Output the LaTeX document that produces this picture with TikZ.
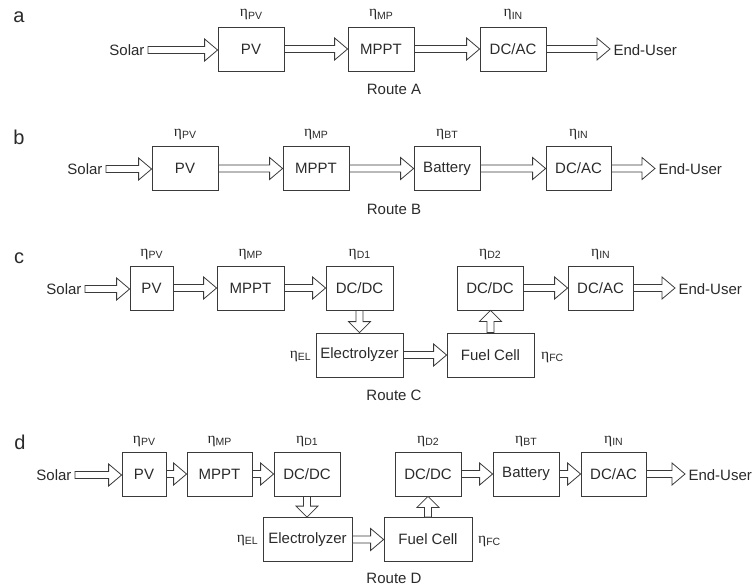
\documentclass[tikz,border=0pt]{standalone}
\usepackage{fontspec}
\setmainfont{Liberation Sans}
\newfontfamily\etafont{Liberation Serif}
\usetikzlibrary{calc}
\definecolor{lc}{HTML}{3A3A3A}
\definecolor{tc}{HTML}{2A2A2A}
\newcommand\eff[1]{{\etafont\fontsize{15.5}{15.5}\selectfont η}\raisebox{-2.5pt}{\fontsize{10.5}{10.5}\selectfont #1}}
\newcommand\fatR[2]{\draw[farrow] let \p1=(#1), \p2=(#2) in (\x1,\y1+3.5pt) -- (\x2-13pt,\y1+3.5pt) -- (\x2-13pt,\y1+11pt) -- (\x2,\y1) -- (\x2-13pt,\y1-11pt) -- (\x2-13pt,\y1-3.5pt) -- (\x1,\y1-3.5pt) -- cycle;}
\newcommand\fatD[2]{\draw[farrow] let \p1=(#1), \p2=(#2) in (\x1-3.5pt,\y1) -- (\x1-3.5pt,\y2+11pt) -- (\x1-11pt,\y2+11pt) -- (\x1,\y2) -- (\x1+11pt,\y2+11pt) -- (\x1+3.5pt,\y2+11pt) -- (\x1+3.5pt,\y1) -- cycle;}
\newcommand\fatU[2]{\draw[farrow] let \p1=(#1), \p2=(#2) in (\x1-3.5pt,\y1) -- (\x1-3.5pt,\y2-11pt) -- (\x1-11pt,\y2-11pt) -- (\x1,\y2) -- (\x1+11pt,\y2-11pt) -- (\x1+3.5pt,\y2-11pt) -- (\x1+3.5pt,\y1) -- cycle;}
\tikzset{
  box/.style={draw=lc, line width=0.8pt, minimum height=44pt, inner sep=0pt, text=tc, font=\fontsize{15}{18}\selectfont},
  farrow/.style={draw=lc, line width=0.8pt, fill=white, line join=miter},
  txt/.style={inner sep=0pt, outer sep=3.5pt, text=tc, font=\fontsize{15}{18}\selectfont},
  eta/.style={inner sep=0pt, text=tc},
  panel/.style={inner sep=0pt, text=tc, font=\fontsize{20}{20}\selectfont},
}
\begin{document}
\begin{tikzpicture}[x=1pt,y=-1pt]
\useasboundingbox (0,0) rectangle (754,588);
% ---------- Row a ----------
\node[panel] (pa) at (19,17) {a};
\node[box, minimum width=66pt] (a1) at (251,49) {PV};
\node[box, minimum width=66pt] (a2) at (381,49) {MPPT};
\node[box, minimum width=66pt] (a3) at (513,49) {DC/AC};
\node[txt, anchor=east] (as) at (148,50) {Solar};
\node[txt, anchor=west] (ae) at (610,50) {End-User};
\node[eta] (ae1) at (251,15) {\eff{PV}};
\node[eta] (ae2) at (381,15) {\eff{MP}};
\node[eta] (ae3) at (513,15) {\eff{IN}};
\node[txt] (ar) at (394,89) {Route A};
\fatR{as.east}{a1.west}
\fatR{a1.east}{a2.west}
\fatR{a2.east}{a3.west}
\fatR{a3.east}{ae.west}
% ---------- Row b ----------
\node[panel] (pb) at (19,137) {b};
\node[box, minimum width=66pt] (b1) at (185,168.5) {PV};
\node[box, minimum width=66pt] (b2) at (316,168.5) {MPPT};
\node[box, minimum width=66pt] (b3) at (447,168.5) {Battery};
\node[box, minimum width=65pt] (b4) at (578.5,168.5) {DC/AC};
\node[txt, anchor=east] (bs) at (106,169) {Solar};
\node[txt, anchor=west] (be) at (655,169) {End-User};
\node[eta] (be1) at (185,134) {\eff{PV}};
\node[eta] (be2) at (316,134) {\eff{MP}};
\node[eta] (be3) at (447,134) {\eff{BT}};
\node[eta] (be4) at (578.5,134) {\eff{IN}};
\node[txt] (br) at (394,209) {Route B};
\fatR{bs.east}{b1.west}
\fatR{b1.east}{b2.west}
\fatR{b2.east}{b3.west}
\fatR{b3.east}{b4.west}
\fatR{b4.east}{be.west}
% ---------- Row c ----------
\node[panel] (pc) at (19,258) {c};
\node[box, minimum width=43pt] (c1) at (151.5,288) {PV};
\node[box, minimum width=67pt] (c2) at (250.5,288) {MPPT};
\node[box, minimum width=67pt] (c3) at (359.5,288) {DC/DC};
\node[box, minimum width=66pt] (c4) at (490,288) {DC/DC};
\node[box, minimum width=65pt] (c5) at (600.5,288) {DC/AC};
\node[box, minimum width=87pt] (c6) at (359.5,355) {Electrolyzer};
\node[box, minimum width=87pt] (c7) at (490.5,355) {Fuel Cell};
\node[txt, anchor=east] (cs) at (85,289) {Solar};
\node[txt, anchor=west] (ce) at (675,289) {End-User};
\node[eta] (ce1) at (151.5,254) {\eff{PV}};
\node[eta] (ce2) at (250.5,254) {\eff{MP}};
\node[eta] (ce3) at (359.5,254) {\eff{D1}};
\node[eta] (ce4) at (490,254) {\eff{D2}};
\node[eta] (ce5) at (600.5,254) {\eff{IN}};
\node[eta, anchor=east] (ce6) at (311,356) {\eff{EL}};
\node[eta, anchor=west] (ce7) at (541,357) {\eff{FC}};
\node[txt] (cr) at (394,395) {Route C};
\fatR{cs.east}{c1.west}
\fatR{c1.east}{c2.west}
\fatR{c2.east}{c3.west}
\fatD{c3.south}{c6.north}
\fatR{c6.east}{c7.west}
\fatU{c7.north}{c4.south}
\fatR{c4.east}{c5.west}
\fatR{c5.east}{ce.west}
% ---------- Row d ----------
\node[panel] (pd) at (20,442) {d};
\node[box, minimum width=44pt] (d1) at (144,474) {PV};
\node[box, minimum width=65pt] (d2) at (219.5,474) {MPPT};
\node[box, minimum width=66pt] (d3) at (307,474) {DC/DC};
\node[box, minimum width=66pt] (d4) at (428,474) {DC/DC};
\node[box, minimum width=66pt] (d5) at (526,474) {Battery};
\node[box, minimum width=65pt] (d6) at (613.5,474) {DC/AC};
\node[box, minimum width=89pt] (d7) at (307.5,539.5) {Electrolyzer};
\node[box, minimum width=88pt] (d8) at (428,539.5) {Fuel Cell};
\node[txt, anchor=east] (ds) at (75,475) {Solar};
\node[txt, anchor=west] (de) at (685,475) {End-User};
\node[eta] (de1) at (144,441) {\eff{PV}};
\node[eta] (de2) at (219.5,441) {\eff{MP}};
\node[eta] (de3) at (307,441) {\eff{D1}};
\node[eta] (de4) at (428,441) {\eff{D2}};
\node[eta] (de5) at (526,441) {\eff{BT}};
\node[eta] (de6) at (613.5,441) {\eff{IN}};
\node[eta, anchor=east] (de7) at (258,540) {\eff{EL}};
\node[eta, anchor=west] (de8) at (478,541) {\eff{FC}};
\node[txt] (dr) at (394,578) {Route D};
\fatR{ds.east}{d1.west}
\fatR{d1.east}{d2.west}
\fatR{d2.east}{d3.west}
\fatD{d3.south}{d7.north}
\fatR{d7.east}{d8.west}
\fatU{d8.north}{d4.south}
\fatR{d4.east}{d5.west}
\fatR{d5.east}{d6.west}
\fatR{d6.east}{de.west}
\end{tikzpicture}
\end{document}
